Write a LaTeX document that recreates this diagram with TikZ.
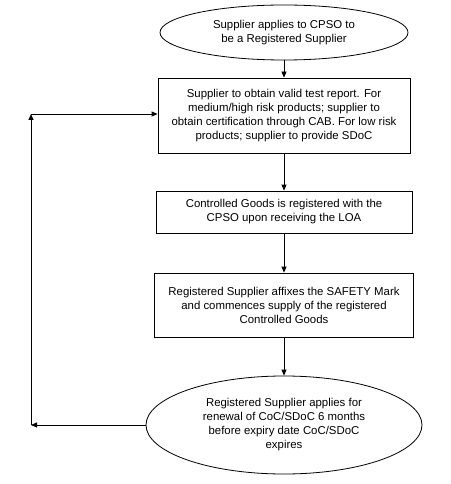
\documentclass[tikz,border=0pt]{standalone}
\usepackage{fontspec}
\setmainfont{Liberation Sans}
\usetikzlibrary{shapes.geometric,arrows.meta}

\begin{document}
\begin{tikzpicture}[x=1pt,y=1pt,yscale=-1,xscale=1,
  every node/.style={font=\fontsize{11.4}{14}\selectfont,align=center,inner sep=0pt},
  stepbox/.style={draw,rectangle,line width=0.8pt},
  endoval/.style={draw,ellipse,line width=0.8pt},
  flow/.style={-{Triangle[length=6pt,width=5pt]},line width=0.8pt}]
\useasboundingbox (0,0) rectangle (450,484);

%Shape: Ellipse [id:apply]
\node [endoval,minimum width=248,minimum height=55] (apply) at (284,32.5) {Supplier applies to CPSO to\\be a Registered Supplier};
%Shape: Rectangle [id:report]
\node [stepbox,minimum width=252,minimum height=75] (report) at (284,115.5) {Supplier to obtain valid test report. For\\medium/high risk products; supplier to\\obtain certification through CAB. For low risk\\products; supplier to provide SDoC};
%Shape: Rectangle [id:register]
\node [stepbox,minimum width=256,minimum height=42] (register) at (284,212) {Controlled Goods is registered with the\\CPSO upon receiving the LOA};
%Shape: Rectangle [id:affix]
\node [stepbox,minimum width=259,minimum height=64] (affix) at (284,305) {Registered Supplier affixes the SAFETY Mark\\and commences supply of the registered\\Controlled Goods};
%Shape: Ellipse [id:renew]
\node [endoval,minimum width=276,minimum height=98] (renew) at (284,425) {Registered Supplier applies for\\renewal of CoC/SDoC 6 months\\before expiry date CoC/SDoC\\expires};

%Corners of the loop
\coordinate (loopbot) at (31,425);
\coordinate (looptop) at (31,114);

%Straight Lines
\draw [flow] (apply) -- (report);
\draw [flow] (report) -- (register);
\draw [flow] (register) -- (affix);
\draw [flow] (affix) -- (renew);
%Straight Lines [loop back]
\draw [flow] (renew.west) -- (loopbot);
\draw [flow] (loopbot) -- (looptop);
\draw [flow] (looptop) -- (looptop -| report.west);

\end{tikzpicture}
\end{document}
